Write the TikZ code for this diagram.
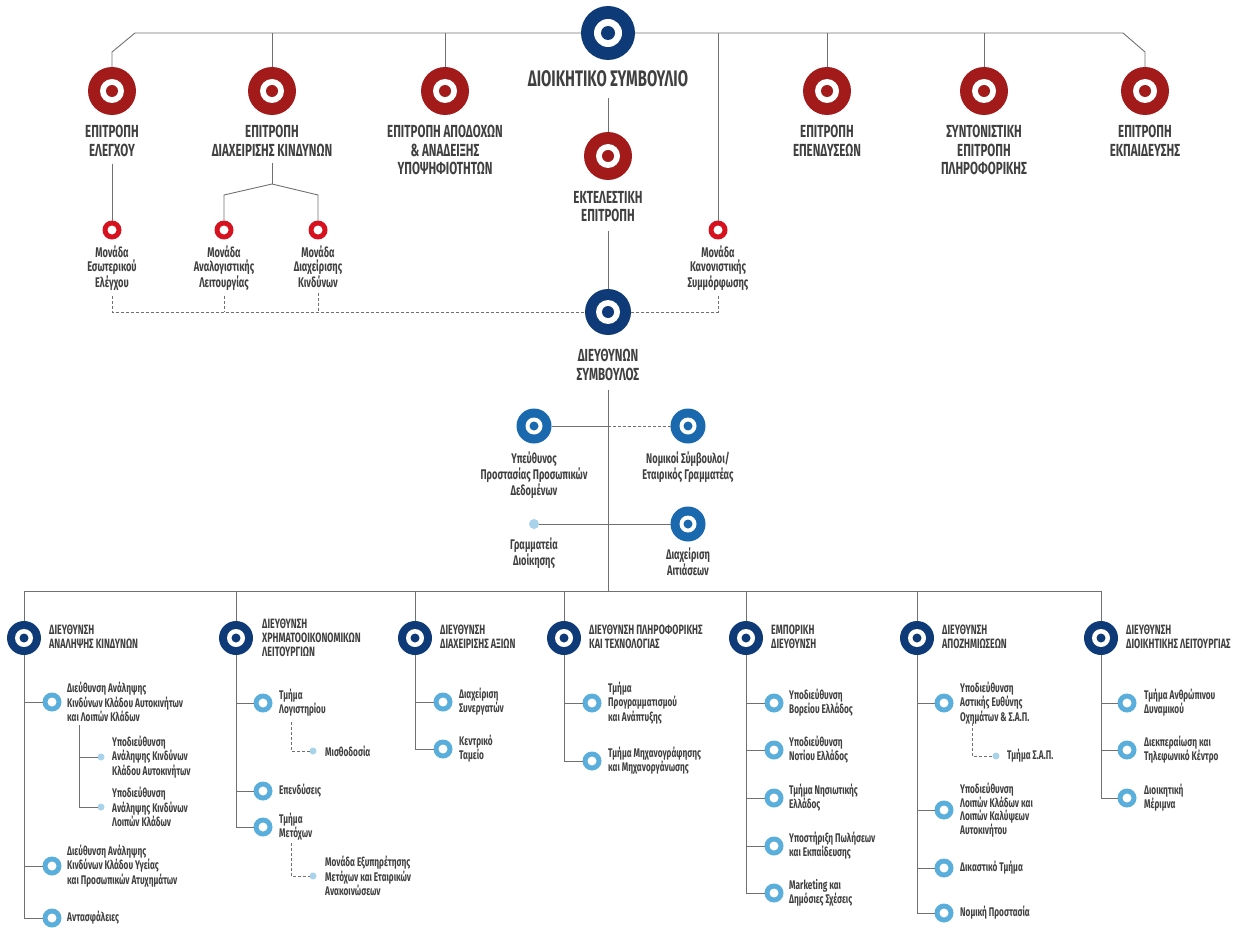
\documentclass[tikz,border=0pt]{standalone}
\usepackage{fontspec}
\setmainfont{Fira Sans}[FakeStretch=0.66]
\usetikzlibrary{calc}
\definecolor{navy}{HTML}{0F3A78}
\definecolor{comred}{HTML}{A31A1A}
\definecolor{brightred}{HTML}{D5121E}
\definecolor{midblue}{HTML}{1A68AE}
\definecolor{ringblue}{HTML}{5AAEDB}
\definecolor{dotblue}{HTML}{A8D3EA}
\definecolor{linegray}{HTML}{707070}
\definecolor{txt}{HTML}{404040}
\tikzset{
  target/.style n args={4}{circle, fill=#1, minimum size=#2, inner sep=0pt, outer sep=0pt,
    path picture={\fill[white] (path picture bounding box.center) circle (#3);
                  \fill[#1] (path picture bounding box.center) circle (#4);}},
  board/.style={target={navy}{54pt}{14pt}{7pt}},
  committee/.style={target={comred}{48pt}{12pt}{6pt}},
  ceo/.style={target={navy}{46pt}{12pt}{6pt}},
  dept/.style={target={navy}{34pt}{9pt}{4.5pt}},
  midc/.style={target={midblue}{35pt}{8.5pt}{4.5pt}},
  redring/.style={target={brightred}{19pt}{4.5pt}{0pt}},
  ring/.style={target={ringblue}{19pt}{4.5pt}{0pt}},
  sdot/.style={circle, fill=dotblue, minimum size=7pt, inner sep=0pt, outer sep=0pt},
  gdot/.style={circle, fill=dotblue, minimum size=10pt, inner sep=0pt, outer sep=0pt},
  bigcap/.style={font=\bfseries\fontsize{22.5}{24}\selectfont, text=txt, align=center, inner sep=0pt, anchor=north},
  caplbl/.style={font=\bfseries\fontsize{17.5}{18.5}\selectfont, text=txt, align=center, inner sep=0pt, anchor=north},
  deptlbl/.style={font=\bfseries\fontsize{13.5}{13.8}\selectfont, text=txt, align=left, inner sep=0pt, anchor=west},
  unitlbl/.style={font=\bfseries\fontsize{14}{13.5}\selectfont, text=txt, align=center, inner sep=0pt, anchor=north},
  smalllbl/.style={font=\bfseries\fontsize{12.5}{12.5}\selectfont, text=txt, align=left, inner sep=0pt, anchor=west},
  ln/.style={draw=linegray, line width=0.9pt},
  dl/.style={draw=linegray, line width=0.9pt, dash pattern=on 3pt off 2pt}
}
\begin{document}
\begin{tikzpicture}[x=1pt, y=-1pt]
\useasboundingbox (0,0) rectangle (1244,928);
% ---------- board and committees ----------
\node[board] (bod) at (608,33) {};
\node[bigcap] (bodl) at (608,70.5) {ΔΙΟΙΚΗΤΙΚΟ ΣΥΜΒΟΥΛΙΟ};
\node[committee] (c1) at (112,91) {};
\node[committee] (c2) at (272,91) {};
\node[committee] (c3) at (445,91) {};
\node[committee] (c4) at (608,156) {};
\node[committee] (c5) at (827,91) {};
\node[committee] (c6) at (984,91) {};
\node[committee] (c7) at (1145,91) {};
\node[caplbl] (c1l) at (112,125) {ΕΠΙΤΡΟΠΗ\\ΕΛΕΓΧΟΥ};
\node[caplbl] (c2l) at (272,125) {ΕΠΙΤΡΟΠΗ\\ΔΙΑΧΕΙΡΙΣΗΣ ΚΙΝΔΥΝΩΝ};
\node[caplbl] (c3l) at (445,125) {ΕΠΙΤΡΟΠΗ ΑΠΟΔΟΧΩΝ\\\& ΑΝΑΔΕΙΞΗΣ\\ΥΠΟΨΗΦΙΟΤΗΤΩΝ};
\node[caplbl] (c4l) at (608,191) {ΕΚΤΕΛΕΣΤΙΚΗ\\ΕΠΙΤΡΟΠΗ};
\node[caplbl] (c5l) at (827,125) {ΕΠΙΤΡΟΠΗ\\ΕΠΕΝΔΥΣΕΩΝ};
\node[caplbl] (c6l) at (984,125) {ΣΥΝΤΟΝΙΣΤΙΚΗ\\ΕΠΙΤΡΟΠΗ\\ΠΛΗΡΟΦΟΡΙΚΗΣ};
\node[caplbl] (c7l) at (1145,125) {ΕΠΙΤΡΟΠΗ\\ΕΚΠΑΙΔΕΥΣΗΣ};
% units
\node[redring] (m1) at (112,230) {};
\node[redring] (m2) at (224,230) {};
\node[redring] (m3) at (318,230) {};
\node[redring] (m4) at (718,230) {};
\node[unitlbl] (m1l) at (112,246) {Μονάδα\\Εσωτερικού\\Ελέγχου};
\node[unitlbl] (m2l) at (224,246) {Μονάδα\\Αναλογιστικής\\Λειτουργίας};
\node[unitlbl] (m3l) at (318,246) {Μονάδα\\Διαχείρισης\\Κινδύνων};
\node[unitlbl] (m4l) at (718,246) {Μονάδα\\Κανονιστικής\\Συμμόρφωσης};
% CEO
\node[ceo] (ceo) at (608,312) {};
\node[caplbl] (ceol) at (608,349) {ΔΙΕΥΘΥΝΩΝ\\ΣΥΜΒΟΥΛΟΣ};
% top connectors
\coordinate (tl1) at (135,33);
\coordinate (tl2) at (112,52);
\coordinate (tr1) at (1123,33);
\coordinate (tr2) at (1145,52);
\draw[ln] (bod.west) -- (tl1) -- (tl2) -- (c1.north);
\draw[ln] (bod.east) -- (tr1) -- (tr2) -- (c7.north);
\foreach \n in {c2,c3,c5,c6,m4} \draw[ln] (\n.north) -- (\n |- bod.center);
\draw[ln, shorten <=11pt] (bodl.south) -- (c4.north);
\draw[ln, shorten <=9pt] (c4l.south) -- (ceo.north);
\draw[ln, shorten <=7pt] (c1l.south) -- (m1.north);
\coordinate (fk) at (272,184);
\coordinate (fkl) at (224,195);
\coordinate (fkr) at (318,195);
\draw[ln, shorten <=7pt] (c2l.south) -- (fk);
\draw[ln] (m2.north) -- (fkl) -- (fk) -- (fkr) -- (m3.north);
\draw[dl, shorten <=5pt] (m1l.south) |- (ceo.west);
\draw[dl, shorten <=5pt] (m2l.south) -- (m2l.south |- ceo.center);
\draw[dl, shorten <=5pt] (m3l.south) -- (m3l.south |- ceo.center);
\draw[dl, shorten <=5pt] (m4l.south) |- (ceo.east);
% ---------- middle ----------
\node[midc] (dpo) at (534,426) {};
\node[midc] (legal) at (688,426) {};
\node[gdot] (secr) at (534,524) {};
\node[midc] (compl) at (688,524) {};
\node[unitlbl] (dpol) at (534,452) {Υπεύθυνος\\Προστασίας Προσωπικών\\Δεδομένων};
\node[unitlbl] (legall) at (688,452) {Νομικοί Σύμβουλοι/\\Εταιρικός Γραμματέας};
\node[unitlbl] (secrl) at (534,538) {Γραμματεία\\Διοίκησης};
\node[unitlbl] (compll) at (688,548) {Διαχείριση\\Αιτιάσεων};
\coordinate (hub) at (608,591);
\draw[ln, shorten <=9pt] (ceol.south) -- (hub);
\draw[ln] (dpo.east) -- (dpo -| hub);
\draw[dl] (dpo -| hub) -- (legal.west);
\draw[ln] (secr.east) -- (compl.west);
% ---------- departments ----------
\node[dept] (d1) at (24,638) {};
\node[dept] (d2) at (236,638) {};
\node[dept] (d3) at (415,638) {};
\node[dept] (d4) at (564,638) {};
\node[dept] (d5) at (746,638) {};
\node[dept] (d6) at (917,638) {};
\node[dept] (d7) at (1101,638) {};
\draw[ln] (d1.north) -- (d1 |- hub) -- (d7 |- hub) -- (d7.north);
\foreach \n in {d2,d3,d4,d5,d6} \draw[ln] (\n.north) -- (\n |- hub);
\node[deptlbl] at (49,637) {ΔΙΕΥΘΥΝΣΗ\\ΑΝΑΛΗΨΗΣ ΚΙΝΔΥΝΩΝ};
\node[deptlbl] at (262,638) {ΔΙΕΥΘΥΝΣΗ\\ΧΡΗΜΑΤΟΟΙΚΟΝΟΜΙΚΩΝ\\ΛΕΙΤΟΥΡΓΙΩΝ};
\node[deptlbl] at (440,637) {ΔΙΕΥΘΥΝΣΗ\\ΔΙΑΧΕΙΡΙΣΗΣ ΑΞΙΩΝ};
\node[deptlbl] at (589,637) {ΔΙΕΥΘΥΝΣΗ ΠΛΗΡΟΦΟΡΙΚΗΣ\\ΚΑΙ ΤΕΧΝΟΛΟΓΙΑΣ};
\node[deptlbl] at (771,637) {ΕΜΠΟΡΙΚΗ\\ΔΙΕΥΘΥΝΣΗ};
\node[deptlbl] at (942,637) {ΔΙΕΥΘΥΝΣΗ\\ΑΠΟΖΗΜΙΩΣΕΩΝ};
\node[deptlbl] at (1126,637) {ΔΙΕΥΘΥΝΣΗ\\ΔΙΟΙΚΗΤΙΚΗΣ ΛΕΙΤΟΥΡΓΙΑΣ};
% dept 1
\node[ring] (a1) at (52,702) {};
\node[ring] (a2) at (52,866) {};
\node[ring] (a3) at (52,918) {};
\node[smalllbl] (a1l) at (67,702) {Διεύθυνση Ανάληψης\\Κινδύνων Κλάδου Αυτοκινήτων\\και Λοιπών Κλάδων};
\node[smalllbl] at (67,866) {Διεύθυνση Ανάληψης\\Κινδύνων Κλάδου Υγείας\\και Προσωπικών Ατυχημάτων};
\node[smalllbl] at (67,918) {Αντασφάλειες};
\draw[ln] (d1.south) |- (a3.west);
\draw[ln] (d1 |- a1) -- (a1.west);
\draw[ln] (d1 |- a2) -- (a2.west);
\node[sdot] (s1) at (101,757) {};
\node[sdot] (s2) at (101,807) {};
\node[smalllbl] at (112,757) {Υποδιεύθυνση\\Ανάληψης Κινδύνων\\Κλάδου Αυτοκινήτων};
\node[smalllbl] at (112,807) {Υποδιεύθυνση\\Ανάληψης Κινδύνων\\Λοιπών Κλάδων};
\coordinate (sv) at (79,725);
\draw[ln] (sv) |- (s2.west);
\draw[ln] (sv |- s1) -- (s1.west);
% dept 2
\node[ring] (b1) at (263,703) {};
\node[ring] (b2) at (263,791) {};
\node[ring] (b3) at (263,827) {};
\node[smalllbl] at (279,703) {Τμήμα\\Λογιστηρίου};
\node[smalllbl] at (279,791) {Επενδύσεις};
\node[smalllbl] at (279,827) {Τμήμα\\Μετόχων};
\draw[ln] (d2.south) |- (b3.west);
\draw[ln] (d2 |- b1) -- (b1.west);
\draw[ln] (d2 |- b2) -- (b2.west);
\node[sdot] (bs1) at (313,751) {};
\node[sdot] (bs2) at (313,876) {};
\node[smalllbl] at (325,751) {Μισθοδοσία};
\node[smalllbl] at (325,876) {Μονάδα Εξυπηρέτησης\\Μετόχων και Εταιρικών\\Ανακοινώσεων};
\coordinate (bv1) at (291,722);
\coordinate (bv2) at (291,843);
\draw[dl] (bv1) |- (bs1.west);
\draw[dl] (bv2) |- (bs2.west);
% dept 3
\node[ring] (e1) at (443,702) {};
\node[ring] (e2) at (443,749) {};
\node[smalllbl] at (459,702) {Διαχείριση\\Συνεργατών};
\node[smalllbl] at (459,749) {Κεντρικό\\Ταμείο};
\draw[ln] (d3.south) |- (e2.west);
\draw[ln] (d3 |- e1) -- (e1.west);
% dept 4
\node[ring] (f1) at (592,703) {};
\node[ring] (f2) at (592,761) {};
\node[smalllbl] at (608,703) {Τμήμα\\Προγραμματισμού\\και Ανάπτυξης};
\node[smalllbl] at (608,761) {Τμήμα Μηχανογράφησης\\και Μηχανοργάνωσης};
\draw[ln] (d4.south) |- (f2.west);
\draw[ln] (d4 |- f1) -- (f1.west);
% dept 5
\node[ring] (g1) at (774,703) {};
\node[ring] (g2) at (774,750) {};
\node[ring] (g3) at (774,798) {};
\node[ring] (g4) at (774,846) {};
\node[ring] (g5) at (774,893) {};
\node[smalllbl] at (789,703) {Υποδιεύθυνση\\Βορείου Ελλάδος};
\node[smalllbl] at (789,750) {Υποδιεύθυνση\\Νοτίου Ελλάδος};
\node[smalllbl] at (789,798) {Τμήμα Νησιωτικής\\Ελλάδος};
\node[smalllbl] at (789,846) {Υποστήριξη Πωλήσεων\\και Εκπαίδευσης};
\node[smalllbl] at (789,893) {Marketing και\\Δημόσιες Σχέσεις};
\draw[ln] (d5.south) |- (g5.west);
\foreach \n in {g1,g2,g3,g4} \draw[ln] (d5 |- \n) -- (\n.west);
% dept 6
\node[ring] (h1) at (944,703) {};
\node[ring] (h2) at (944,810) {};
\node[ring] (h3) at (944,868) {};
\node[ring] (h4) at (944,913) {};
\node[smalllbl] at (960,703) {Υποδιεύθυνση\\Αστικής Ευθύνης\\Οχημάτων \& Σ.Α.Π.};
\node[smalllbl] at (960,810) {Υποδιεύθυνση\\Λοιπών Κλάδων και\\Λοιπών Καλύψεων\\Αυτοκινήτου};
\node[smalllbl] at (960,868) {Δικαστικό Τμήμα};
\node[smalllbl] at (960,913) {Νομική Προστασία};
\draw[ln] (d6.south) |- (h4.west);
\foreach \n in {h1,h2,h3} \draw[ln] (d6 |- \n) -- (\n.west);
\node[sdot] (hs1) at (996,756) {};
\node[smalllbl] at (1007,756) {Τμήμα Σ.Α.Π.};
\coordinate (hv1) at (972,723);
\draw[dl] (hv1) |- (hs1.west);
% dept 7
\node[ring] (k1) at (1127,703) {};
\node[ring] (k2) at (1127,750) {};
\node[ring] (k3) at (1127,798) {};
\node[smalllbl] at (1144,703) {Τμήμα Ανθρώπινου\\Δυναμικού};
\node[smalllbl] at (1144,750) {Διεκπεραίωση και\\Τηλεφωνικό Κέντρο};
\node[smalllbl] at (1144,798) {Διοικητική\\Μέριμνα};
\draw[ln] (d7.south) |- (k3.west);
\foreach \n in {k1,k2} \draw[ln] (d7 |- \n) -- (\n.west);
\end{tikzpicture}
\end{document}
